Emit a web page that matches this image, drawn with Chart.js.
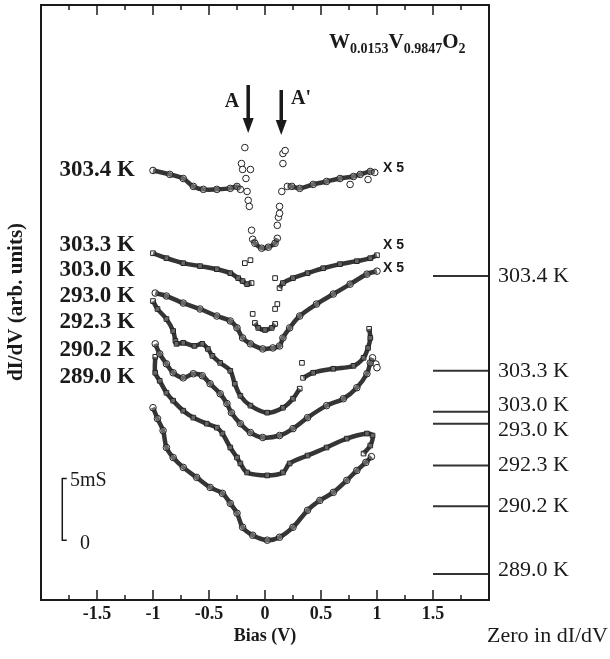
<!DOCTYPE html>
<html>
<head>
<meta charset="utf-8">
<script src="https://cdn.jsdelivr.net/npm/chart.js@4.4.0/dist/chart.umd.min.js"></script>
<style>
  html, body { margin: 0; padding: 0; background: #fff; }
  #wrap { width: 610px; height: 659px; }
</style>
</head>
<body>
<div id="wrap"><canvas id="sts" width="610" height="659"></canvas></div>
<script>
// dI/dV spectra, W0.0153V0.9847O2, curves already shifted (and x5 for the top three)
const temps = ['303.4 K', '303.3 K', '303.0 K', '293.0 K', '292.3 K', '290.2 K', '289.0 K'];
const zeroLevel = [26.21, 18.55, 15.24, 14.27, 10.89, 7.58, 2.10];   // mS, where each curve's zero sits
const xTickLabels = ['-1.5', '-1', '-0.5', '0', '0.5', '1', '1.5'];

// 303.4 K (x5)
const bias3034 = [-1.00, -0.85, -0.73, -0.64, -0.55, -0.43, -0.31, -0.25, -0.22, -0.20, -0.11, -0.09, -0.03, 0.03, 0.09, 0.11, 0.15, 0.20, 0.24, 0.31, 0.43, 0.55, 0.67, 0.79, 0.85, 0.94, 0.98];
const didv3034 = [34.76, 34.44, 34.11, 33.47, 33.23, 33.23, 33.31, 33.47, 33.23, null, 29.19, 28.87, 28.47, 28.55, 28.87, 29.27, null, 33.47, 33.47, 33.31, 33.63, 33.87, 34.11, 34.27, 34.44, 34.68, 34.60];
const dotBias3034 = [-0.18, -0.21, -0.20, -0.13, -0.17, -0.16, -0.15, -0.14, -0.12, 0.11, 0.12, 0.13, 0.13, 0.15, 0.16, 0.16, 0.18, 0.76, 0.92];
const dotDidv3034 = [36.61, 35.32, 34.84, 34.84, 34.11, 33.06, 32.34, 31.85, 29.92, 30.32, 30.97, 31.29, 31.85, 33.06, 35.32, 36.13, 36.37, 33.63, 34.03];

// 303.3 K (x5)
const bias3033 = [-1.00, -0.88, -0.73, -0.58, -0.43, -0.31, -0.24, -0.20, -0.16, -0.12, -0.10, -0.09, -0.06, 0.00, 0.06, 0.09, 0.11, 0.13, 0.16, 0.25, 0.38, 0.52, 0.67, 0.82, 0.94, 1.00];
const didv3033 = [28.06, 27.66, 27.26, 27.02, 26.77, 26.45, 26.05, 25.81, 25.56, 25.65, null, 22.42, 22.02, 21.85, 22.02, 22.34, null, 25.24, 25.65, 26.05, 26.45, 26.85, 27.18, 27.42, 27.66, 27.90];
const dotBias3033 = [-0.18, -0.13, 0.09, -0.11, 0.11, 0.09];
const dotDidv3033 = [27.26, 27.50, 26.05, 23.15, 23.95, 23.55];

// 303.0 K (x5)
const bias3030 = [-0.98, -0.88, -0.73, -0.58, -0.43, -0.31, -0.25, -0.20, -0.13, -0.02, 0.07, 0.13, 0.16, 0.22, 0.31, 0.46, 0.61, 0.76, 0.91, 1.00];
const didv3030 = [24.84, 24.60, 24.03, 23.55, 22.98, 22.58, 22.02, 21.21, 20.73, 20.32, 20.40, 20.56, 21.21, 22.02, 22.98, 23.95, 24.76, 25.56, 26.37, 26.61];

// 293.0 K
const bias2930 = [-1.00, -0.96, -0.88, -0.82, -0.80, -0.79, -0.73, -0.63, -0.56, -0.51, -0.47, -0.40, -0.31, -0.27, -0.22, -0.13, 0.02, 0.16, 0.25, 0.31, 0.32, 0.34, 0.43, 0.61, 0.79, 0.88, 0.92, 0.94, 0.93];
const didv2930 = [24.19, 23.55, 22.74, 21.77, 20.97, 20.73, 20.81, 20.56, 20.73, 20.32, 19.76, 19.19, 18.55, 17.50, 16.53, 15.73, 15.16, 15.56, 16.29, 17.10, null, 17.98, 18.39, 18.71, 18.95, 19.60, 20.40, 21.21, 21.94];
const dotBias2930 = [0.33];
const dotDidv2930 = [19.19];

// 292.3 K
const bias2923 = [-0.98, -0.94, -0.88, -0.82, -0.73, -0.64, -0.56, -0.49, -0.40, -0.34, -0.30, -0.22, -0.13, -0.02, 0.13, 0.25, 0.38, 0.55, 0.70, 0.82, 0.91, 0.94, 0.96];
const didv2923 = [20.73, 19.92, 19.11, 18.39, 17.98, 18.31, 18.15, 17.50, 16.69, 15.89, 15.16, 14.27, 13.55, 13.15, 13.31, 13.87, 14.76, 15.73, 16.29, 17.18, 18.31, 19.19, 19.60];
const dotBias2923 = [0.99, 1.00];
const dotDidv2923 = [19.10, 18.80];

// 290.2 K
const bias2902 = [-0.98, -0.98, -0.94, -0.88, -0.82, -0.73, -0.64, -0.52, -0.43, -0.38, -0.31, -0.25, -0.22, -0.16, 0.02, 0.16, 0.22, 0.38, 0.55, 0.73, 0.91, 0.96, 0.94, 0.88];
const didv2902 = [19.68, 18.39, 17.74, 16.77, 16.13, 15.32, 14.76, 14.27, 13.95, 13.47, 12.34, 11.53, 11.05, 10.32, 10.08, 10.32, 11.05, 11.69, 12.34, 13.06, 13.47, 13.31, 12.50, 11.85];

// 289.0 K
const bias2890 = [-1.00, -0.96, -0.91, -0.88, -0.82, -0.73, -0.61, -0.49, -0.38, -0.31, -0.25, -0.20, -0.11, 0.02, 0.13, 0.25, 0.38, 0.49, 0.61, 0.73, 0.82, 0.90, 0.95];
const didv2890 = [15.56, 14.68, 13.71, 12.34, 11.53, 10.73, 9.92, 9.11, 8.63, 7.82, 7.02, 5.89, 5.24, 4.84, 5.08, 5.89, 7.26, 8.06, 8.71, 9.68, 10.48, 11.13, 11.60];

// 5 mS scale bar
const scaleBarBias = [-1.77, -1.81, -1.81, -1.77];
const scaleBarDidv = [9.84, 9.84, 4.84, 4.84];

const SERIF = '"Liberation Serif", "Times New Roman", serif';
const INK = '#1a1a1a';

function pts(xs, ys) {
  return xs.map((v, i) => ({ x: v, y: ys[i] }));
}

function curve(xs, ys, style) {
  return {
    data: pts(xs, ys),
    showLine: true,
    spanGaps: false,
    tension: 0.35,
    borderColor: '#353535',
    borderWidth: 4.5,
    pointStyle: style,
    pointRadius: 3.3,
    pointBorderWidth: 1,
    pointBorderColor: '#222',
    pointBackgroundColor: 'rgba(255,255,255,0.25)'
  };
}

function dots(xs, ys, style) {
  return {
    data: pts(xs, ys),
    showLine: false,
    pointStyle: style,
    pointRadius: 3.3,
    pointBorderWidth: 1,
    pointBorderColor: '#222',
    pointBackgroundColor: '#fff'
  };
}

const datasets = [
  curve(bias3034, didv3034, 'circle'), dots(dotBias3034, dotDidv3034, 'circle'),
  curve(bias3033, didv3033, 'rect'), dots(dotBias3033, dotDidv3033, 'rect'),
  curve(bias3030, didv3030, 'circle'),
  curve(bias2930, didv2930, 'rect'), dots(dotBias2930, dotDidv2930, 'rect'),
  curve(bias2923, didv2923, 'circle'), dots(dotBias2923, dotDidv2923, 'circle'),
  curve(bias2902, didv2902, 'rect'),
  curve(bias2890, didv2890, 'circle')
];

// zero markers on the right, from 1.5 V to the frame
zeroLevel.forEach(z => {
  datasets.push({
    data: [{ x: 1.5, y: z }, { x: 2, y: z }],
    showLine: true, borderColor: '#333', borderWidth: 2, pointRadius: 0
  });
});

datasets.push({
  data: pts(scaleBarBias, scaleBarDidv),
  showLine: true, tension: 0, borderColor: INK, borderWidth: 1.5, pointRadius: 0
});

function seg(ctx, x1, y1, x2, y2) {
  ctx.beginPath(); ctx.moveTo(x1, y1); ctx.lineTo(x2, y2); ctx.stroke();
}

function arrowDown(ctx, px, top, bottom) {
  ctx.lineWidth = 3.5;
  seg(ctx, px, top, px, bottom - 12);
  ctx.beginPath();
  ctx.moveTo(px - 5.5, bottom - 15);
  ctx.lineTo(px + 5.5, bottom - 15);
  ctx.lineTo(px, bottom);
  ctx.closePath();
  ctx.fill();
}

const annotations = {
  id: 'annotations',
  afterDraw(chart) {
    const { ctx, chartArea: a, scales: { x, y } } = chart;
    ctx.save();
    ctx.strokeStyle = INK;
    ctx.fillStyle = INK;

    // frame + inward ticks, top and bottom
    ctx.lineWidth = 2;
    ctx.strokeRect(a.left, a.top, a.right - a.left, a.bottom - a.top);
    ctx.lineWidth = 1.5;
    for (let v = -1.75; v < 1.9; v += 0.25) {
      const px = x.getPixelForValue(v);
      const len = Math.abs(v * 2 - Math.round(v * 2)) < 1e-6 ? 10 : 5;
      seg(ctx, px, a.bottom, px, a.bottom - len);
      seg(ctx, px, a.top, px, a.top + len);
    }

    // axis titles
    ctx.font = 'bold 18px ' + SERIF;
    ctx.textAlign = 'center';
    ctx.textBaseline = 'middle';
    ctx.fillText('Bias (V)', x.getPixelForValue(0), 636);
    ctx.save();
    ctx.translate(17, 302);
    ctx.rotate(-Math.PI / 2);
    ctx.font = 'bold 21px ' + SERIF;
    ctx.fillText('dI/dV (arb. units)', 0, 0);
    ctx.restore();

    // curve labels on the left
    const leftY = [170, 245, 270, 296, 322, 350, 377];
    ctx.font = 'bold 23px ' + SERIF;
    ctx.textAlign = 'right';
    temps.forEach((t, i) => ctx.fillText(t, 135, leftY[i]));

    // zero labels on the right, two of them nudged apart where the marks crowd
    const nudge = [0, 0, -6, 7, 0, 0, -4];
    ctx.font = '22px ' + SERIF;
    ctx.textAlign = 'left';
    temps.forEach((t, i) => ctx.fillText(t, a.right + 9, y.getPixelForValue(zeroLevel[i]) + nudge[i]));
    ctx.fillText('Zero in dI/dV', a.right - 2, 636);

    // x5 marks
    ctx.font = 'bold 14px "Liberation Sans", Arial, sans-serif';
    [168, 245, 268].forEach(py => ctx.fillText('X 5', 383, py));

    // scale bar text
    ctx.font = '20px ' + SERIF;
    ctx.fillText('5mS', 70, 481);
    ctx.fillText('0', 80, 544);

    // compound
    let cx = 329;
    const base = 48;
    const part = (s, big) => {
      ctx.font = 'bold ' + (big ? 21 : 14) + 'px ' + SERIF;
      ctx.textBaseline = 'alphabetic';
      ctx.fillText(s, cx, big ? base : base + 5);
      cx += ctx.measureText(s).width;
    };
    part('W', true); part('0.0153', false); part('V', true); part('0.9847', false); part('O', true); part('2', false);

    // gap-edge arrows
    arrowDown(ctx, x.getPixelForValue(-0.15), 85, 133);
    arrowDown(ctx, x.getPixelForValue(0.145), 90, 135);
    ctx.font = 'bold 20px ' + SERIF;
    ctx.textAlign = 'center';
    ctx.textBaseline = 'middle';
    ctx.fillText('A', 232, 102);
    ctx.fillText("A'", 301, 99);

    ctx.restore();
  }
};

new Chart(document.getElementById('sts'), {
  type: 'scatter',
  data: { datasets },
  options: {
    responsive: false,
    animation: false,
    devicePixelRatio: 1,
    layout: { padding: { left: 41, right: 121, top: 3, bottom: 0 } },
    plugins: { legend: { display: false }, tooltip: { enabled: false } },
    scales: {
      x: {
        type: 'linear',
        min: -2, max: 2,
        afterFit(scale) { scale.height = 59; },
        grid: { display: false, drawTicks: false },
        border: { display: false },
        ticks: {
          stepSize: 0.5,
          autoSkip: false,
          maxRotation: 0,
          padding: 4,
          color: INK,
          font: { family: SERIF, size: 18, weight: 'bold' },
          callback: (v) => {
            const i = Math.round((v + 1.5) * 2);
            return (i >= 0 && i < xTickLabels.length && Math.abs(v) < 1.9) ? xTickLabels[i] : '';
          }
        }
      },
      y: {
        display: false,
        min: 0, max: 48.15
      }
    }
  },
  plugins: [annotations]
});
</script>
</body>
</html>
